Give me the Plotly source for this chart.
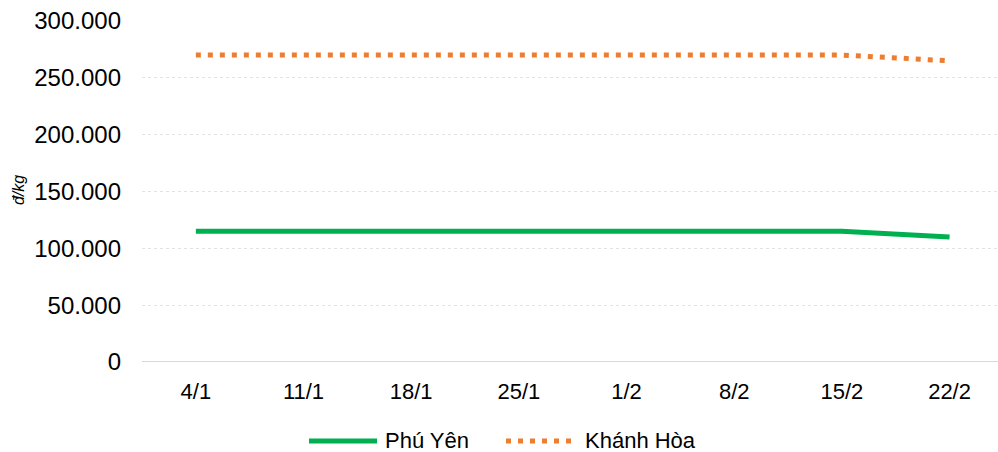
import plotly.graph_objects as go

categories = ["4/1", "11/1", "18/1", "25/1", "1/2", "8/2", "15/2", "22/2"]
phu_yen = [115000, 115000, 115000, 115000, 115000, 115000, 115000, 110000]
khanh_hoa = [270000, 270000, 270000, 270000, 270000, 270000, 270000, 265000]
y_ticks = [0, 50000, 100000, 150000, 200000, 250000, 300000]
y_labels = ["0", "50.000", "100.000", "150.000", "200.000", "250.000", "300.000"]
series_names = ["Phú Yên", "Khánh Hòa"]
green = "#00B050"
orange = "#ED7D31"

W, H = 998, 452
ML, MR, MT, MB = 142, 0, 21, 90
PW = W - ML - MR
PH = H - MT - MB

def px_x(p):
    return (p - ML) / PW

def px_y(p):
    return (H - MB - p) / PH

xs = list(range(len(categories)))
fig = go.Figure()
fig.add_trace(go.Scatter(x=xs, y=phu_yen, name=series_names[0], mode="lines",
                         line=dict(color=green, width=5), showlegend=False))
fig.add_trace(go.Scatter(x=xs, y=khanh_hoa, name=series_names[1], mode="lines",
                         line=dict(color=orange, width=5, dash="5px,7px"), showlegend=False))

fig.update_layout(
    width=W, height=H,
    margin=dict(l=ML, r=MR, t=MT, b=MB, autoexpand=False),
    paper_bgcolor="white", plot_bgcolor="white",
    font=dict(family="Liberation Sans, Arial, sans-serif", color="#000000"),
    showlegend=False,
    xaxis=dict(range=[-0.5, 7.45], tickmode="array", tickvals=xs,
               ticktext=categories, showgrid=False, zeroline=False, automargin=False,
               tickfont=dict(size=22), ticks="", ticklabelstandoff=14),
    yaxis=dict(range=[0, 300000], tickmode="array", tickvals=y_ticks, ticktext=y_labels,
               showgrid=True, gridcolor="#E3E3E3", griddash="dot", gridwidth=1,
               zeroline=False, showline=False, tickfont=dict(size=24), ticks="",
               automargin=False, ticklabelstandoff=20),
)
# zero baseline
fig.add_shape(type="line", xref="paper", yref="y", x0=0, x1=1, y0=0, y1=0,
              line=dict(color="#D9D9D9", width=2))
# y-axis title
fig.add_annotation(text="<i>đ/kg</i>", xref="paper", yref="paper",
                   x=px_x(18), y=px_y(190), textangle=-90, showarrow=False,
                   font=dict(size=16), xanchor="center", yanchor="middle")
# custom legend
ly = px_y(440)
fig.add_shape(type="line", xref="paper", yref="paper", x0=px_x(309), x1=px_x(377),
              y0=px_y(441), y1=px_y(441), line=dict(color=green, width=5))
fig.add_annotation(text=series_names[0], xref="paper", yref="paper", x=px_x(384), y=ly,
                   showarrow=False, xanchor="left", yanchor="middle", borderpad=0,
                   font=dict(size=22))
fig.add_shape(type="line", xref="paper", yref="paper", x0=px_x(506), x1=px_x(578),
              y0=px_y(441), y1=px_y(441), line=dict(color=orange, width=5, dash="5px,7px"))
fig.add_annotation(text=series_names[1], xref="paper", yref="paper", x=px_x(584), y=ly,
                   showarrow=False, xanchor="left", yanchor="middle", borderpad=0,
                   font=dict(size=22))
fig.write_html("out.html", config={"displayModeBar": False},
               post_script="document.body.style.margin='0';document.body.style.overflow='hidden';")
